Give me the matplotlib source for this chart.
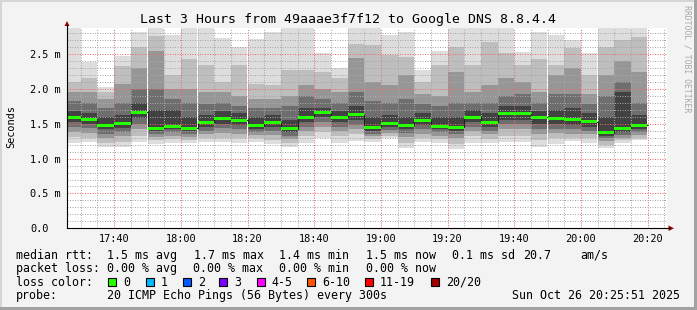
from matplotlib import pyplot as plt
from matplotlib.patches import Rectangle, Polygon
from matplotlib.lines import Line2D
import matplotlib.transforms as mtransforms
import numpy as np

# 5-minute slots, minutes after 17:00 (first slot 17:25-17:30, last 20:15-20:20)
slot_start = np.arange(25, 200, 5)

# median rtt per slot (ms)
median = [1.595, 1.56, 1.48, 1.50, 1.667, 1.437, 1.466, 1.432, 1.523, 1.58,
          1.547, 1.47, 1.513, 1.427, 1.595, 1.66, 1.59, 1.63, 1.45, 1.50,
          1.48, 1.55, 1.466, 1.45, 1.59, 1.523, 1.64, 1.64, 1.59, 1.58,
          1.556, 1.527, 1.37, 1.437, 1.475]

ping1 = [1.23, 1.24, 1.17, 1.17, 1.24, 1.21, 1.23, 1.23, 1.24, 1.24,
         1.23, 1.24, 1.21, 1.16, 1.23, 1.29, 1.23, 1.25, 1.24, 1.29,
         1.15, 1.24, 1.22, 1.14, 1.23, 1.22, 1.24, 1.24, 1.17, 1.21,
         1.25, 1.23, 1.15, 1.23, 1.27]
ping3 = [1.31, 1.30, 1.22, 1.24, 1.32, 1.26, 1.28, 1.27, 1.29, 1.30,
         1.29, 1.29, 1.27, 1.22, 1.32, 1.38, 1.32, 1.35, 1.28, 1.33,
         1.23, 1.30, 1.28, 1.21, 1.32, 1.28, 1.33, 1.33, 1.26, 1.29,
         1.30, 1.29, 1.20, 1.27, 1.30]
ping5 = [1.38, 1.37, 1.30, 1.32, 1.42, 1.31, 1.33, 1.31, 1.35, 1.37,
         1.36, 1.34, 1.34, 1.28, 1.40, 1.46, 1.40, 1.42, 1.32, 1.37,
         1.31, 1.36, 1.33, 1.29, 1.40, 1.35, 1.42, 1.42, 1.35, 1.37,
         1.36, 1.35, 1.25, 1.30, 1.34]
ping7 = [1.45, 1.44, 1.36, 1.38, 1.50, 1.35, 1.38, 1.35, 1.40, 1.44,
         1.42, 1.38, 1.40, 1.33, 1.46, 1.53, 1.46, 1.48, 1.36, 1.41,
         1.37, 1.42, 1.38, 1.35, 1.46, 1.40, 1.49, 1.49, 1.42, 1.43,
         1.42, 1.40, 1.29, 1.34, 1.38]
ping9 = [1.52, 1.50, 1.42, 1.44, 1.58, 1.39, 1.42, 1.39, 1.46, 1.50,
         1.48, 1.42, 1.45, 1.38, 1.52, 1.60, 1.52, 1.55, 1.40, 1.45,
         1.42, 1.48, 1.42, 1.40, 1.52, 1.46, 1.56, 1.56, 1.50, 1.50,
         1.48, 1.46, 1.33, 1.38, 1.42]
# upper half
ping12 = [1.68, 1.66, 1.60, 1.62, 1.80, 1.70, 1.70, 1.60, 1.62, 1.68,
          1.65, 1.60, 1.62, 1.55, 1.72, 1.72, 1.68, 1.75, 1.60, 1.62,
          1.60, 1.65, 1.60, 1.60, 1.70, 1.65, 1.75, 1.75, 1.68, 1.70,
          1.72, 1.65, 1.60, 1.95, 1.62]
ping14 = [1.82, 1.80, 1.72, 1.80, 2.00, 2.00, 1.85, 1.80, 1.78, 1.80,
          1.75, 1.72, 1.72, 1.75, 1.90, 1.85, 1.80, 1.95, 1.82, 1.80,
          1.85, 1.78, 1.75, 1.80, 1.80, 1.80, 1.90, 1.92, 1.80, 1.92,
          1.92, 1.78, 1.90, 2.10, 1.80]
ping16 = [1.95, 1.95, 1.85, 2.07, 2.30, 2.55, 2.00, 2.00, 1.95, 1.95,
          1.90, 1.85, 1.85, 1.90, 2.05, 2.00, 1.95, 2.44, 2.10, 2.05,
          2.20, 1.92, 1.90, 2.24, 1.95, 2.05, 2.15, 2.10, 1.95, 2.20,
          2.30, 1.92, 2.20, 2.40, 2.24]
ping18 = [2.10, 2.15, 1.95, 2.33, 2.60, 2.76, 2.20, 2.43, 2.34, 2.10,
          2.34, 2.07, 2.05, 2.27, 2.27, 2.24, 2.15, 2.65, 2.63, 2.48,
          2.46, 2.10, 2.34, 2.60, 2.34, 2.67, 2.51, 2.34, 2.43, 2.34,
          2.58, 2.20, 2.60, 2.70, 2.74]
ping20 = [3.0, 2.39, 2.03, 2.47, 2.82, 2.87, 2.77, 3.0, 3.0, 2.73,
          2.60, 2.72, 2.82, 3.0, 3.0, 2.51, 2.30, 2.88, 2.88, 2.77,
          2.82, 2.27, 2.55, 2.88, 3.0, 3.0, 2.88, 2.53, 2.82, 2.77,
          2.70, 2.51, 2.88, 2.88, 2.88]

tick_labels = ['17:40', '18:00', '18:20', '18:40', '19:00', '19:20', '19:40', '20:00', '20:20']
loss_labels = ['0', '1', '2', '3', '4-5', '6-10', '11-19', '20/20']
loss_colors = ['#26ff00', '#00b8ff', '#0059ff', '#7e00ff', '#ff00ff', '#ff5500', '#ff0000', '#a10000']

W, H = 697, 310
MONO = 'DejaVu Sans Mono'

fig = plt.figure(figsize=(W / 100, H / 100), dpi=100)
fig.patch.set_facecolor('#f3f3f3')
# pixel coordinates (origin top-left) for the frame decorations
px = mtransforms.Affine2D().scale(1 / W, -1 / H).translate(0, 1) + fig.transFigure

ax = fig.add_axes([67 / W, 1 - 228.3 / H, 600 / W, (228.3 - 27.7) / H])
ax.set_facecolor('white')
ax.set_xlim(25.85, 205.85)
ax.set_ylim(0, 2.878)

# smoke: outer pairs light, inner pairs dark
lows = [ping1, ping3, ping5, ping7, ping9]
highs = [ping20, ping18, ping16, ping14, ping12]
shades = [221, 190, 150, 110, 66]
for lo, hi, g in zip(lows, highs, shades):
    lo = np.array(lo)
    hi = np.array(hi)
    c = '#%02x%02x%02x' % (g, g, g)
    ax.bar(slot_start, hi - lo, bottom=lo, width=5, align='edge', color=c,
           linewidth=0, antialiased=False, zorder=1)

# grid (dotted, drawn over the smoke like rrdtool does)
ax.set_xticks(np.arange(40, 201, 20))
ax.set_xticks(np.arange(30, 206, 5), minor=True)
ax.set_yticks(np.arange(0, 2.9, 0.5))
ax.set_yticks(np.arange(0, 2.9, 0.1), minor=True)
ax.set_axisbelow(False)
ax.grid(which='minor', color='#a8a8a8', linestyle=(0, (1, 1.5)), linewidth=0.72, zorder=2)
ax.grid(which='major', color='#ec6a6a', linestyle=(0, (1, 1.5)), linewidth=0.72, zorder=2)
ax.tick_params(which='both', length=0, labelbottom=False, labelleft=False)
for s in ax.spines.values():
    s.set_visible(False)

# median line
edges = np.append(slot_start, slot_start[-1] + 5)
ax.stairs(median, edges, baseline=None, color='#202020', linewidth=0.8, zorder=3)
ax.bar(slot_start, 0.043, bottom=np.array(median) - 0.0215, width=5, align='edge',
       color=loss_colors[0], linewidth=0, antialiased=False, zorder=4)

# axis labels
bx = mtransforms.blended_transform_factory(ax.transData, px)
for t, lab in zip(np.arange(40, 201, 20), tick_labels):
    ax.text(t, 241.7, lab, transform=bx, ha='center', va='baseline',
            family=MONO, fontsize=7.4, clip_on=False)
by = mtransforms.blended_transform_factory(px, ax.transData)
for v in np.arange(0, 2.6, 0.5):
    lab = '0.0' if v == 0 else '%.1f m' % v
    ax.text(30, v, lab, transform=by, ha='left', va='center_baseline',
            family=MONO, fontsize=7.4, clip_on=False)
fig.text(11, 127, 'Seconds', transform=px, rotation=90, ha='center', va='center',
         family=MONO, fontsize=7.4)

# axes with arrows
fig.add_artist(Line2D([67, 67], [228.3, 25], transform=px, color='black', linewidth=0.8))
fig.add_artist(Line2D([67, 670], [228.3, 228.3], transform=px, color='black', linewidth=0.8))
fig.add_artist(Polygon([[64.5, 26], [69.5, 26], [67, 21]], closed=True, transform=px,
                       color='#a00000', linewidth=0))
fig.add_artist(Polygon([[668.5, 225.5], [668.5, 231], [674, 228.3]], closed=True, transform=px,
                       color='#a00000', linewidth=0))

# title and watermark
fig.text(347.5, 23.3, 'Last 3 Hours from 49aaae3f7f12 to Google DNS 8.8.4.4', transform=px,
         ha='center', va='baseline', family=MONO, fontsize=9.5)
fig.text(687, 5, 'RRDTOOL / TOBI OETIKER', transform=px, rotation=270, ha='center', va='top',
         family=MONO, fontsize=5.9, color='#a8a8a8')

# legend rows
med = np.array(median)
row1 = [('median rtt:', 16), ('%.1f ms avg' % med.mean(), 107.3), ('%.1f ms max' % med.max(), 194),
        ('%.1f ms min' % med.min(), 279.3), ('%.1f ms now' % med[-1], 366),
        ('%.1f ms sd' % med.std(), 451.7), ('20.7', 523), ('am/s', 580)]
row2 = [('packet loss:', 16), ('0.00 % avg', 107.3), ('0.00 % max', 193.3),
        ('0.00 % min', 279.3), ('0.00 % now', 366)]
for row, y in [(row1, 258.7), (row2, 272)]:
    for s, x in row:
        fig.text(x, y, s, transform=px, ha='left', va='baseline', family=MONO, fontsize=8.4)

fig.text(16, 285.7, 'loss color:', transform=px, ha='left', va='baseline', family=MONO, fontsize=8.4)
box_x = [108, 145.7, 182.7, 219.3, 256.7, 307.3, 365, 430.7]
for bxp, lab, c in zip(box_x, loss_labels, loss_colors):
    fig.add_artist(Rectangle((bxp, 277.7), 8, 8, transform=px, facecolor=c,
                             edgecolor='black', linewidth=0.8))
    fig.text(bxp + 15, 285.7, lab, transform=px, ha='left', va='baseline', family=MONO, fontsize=8.4)

fig.text(16, 299.3, 'probe:', transform=px, ha='left', va='baseline', family=MONO, fontsize=8.4)
fig.text(107.3, 299.3, '20 ICMP Echo Pings (56 Bytes) every 300s', transform=px,
         ha='left', va='baseline', family=MONO, fontsize=8.4)
fig.text(680, 299.3, 'Sun Oct 26 20:25:51 2025', transform=px, ha='right', va='baseline',
         family=MONO, fontsize=8.4)

# 3d frame
fig.add_artist(Rectangle((0, 0), W, 2, transform=px, color='#d6d6d6', linewidth=0))
fig.add_artist(Rectangle((0, 0), 2, H, transform=px, color='#d6d6d6', linewidth=0))
fig.add_artist(Rectangle((0, H - 3), W, 3, transform=px, color='#a2a2a2', linewidth=0))
fig.add_artist(Rectangle((W - 3, 0), 3, H, transform=px, color='#a2a2a2', linewidth=0))

fig.savefig('out.png', dpi=100, facecolor=fig.get_facecolor())
